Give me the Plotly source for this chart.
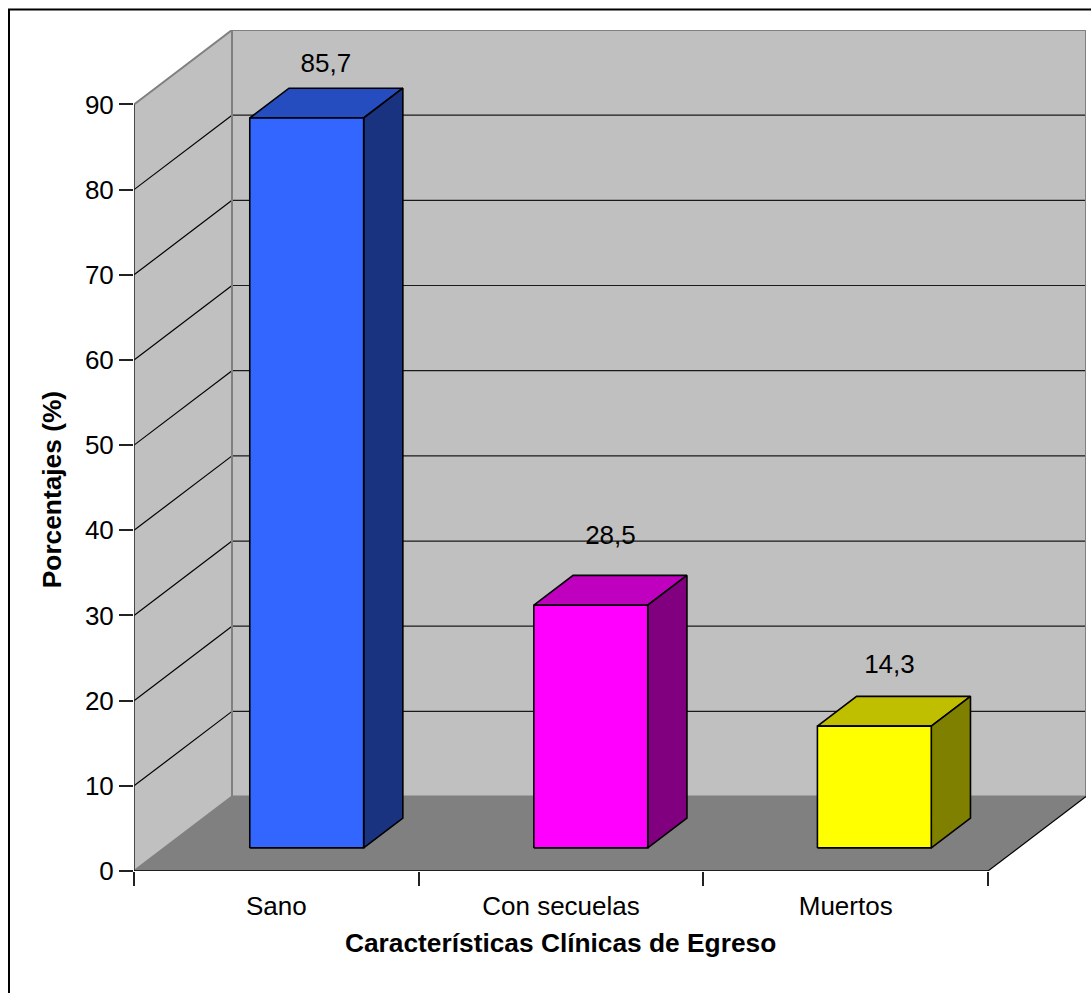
import plotly.graph_objects as go

# Chart data
categories = ["Sano", "Con secuelas", "Muertos"]
percentages = [85.7, 28.5, 14.3]
y_ticks = [0, 10, 20, 30, 40, 50, 60, 70, 80, 90]
x_title = "Características Clínicas de Egreso"
y_title = "Porcentajes (%)"

# Bar colours per category: front, top and side faces
front_colors = ["#3366FF", "#FF00FF", "#FFFF00"]
top_colors = ["#264DBF", "#BF00BF", "#BFBF00"]
side_colors = ["#1A3380", "#800080", "#808000"]

# Page and plot-box geometry
WIDTH, HEIGHT = 1091, 993
LEFT, RIGHT_EDGE, TOP, BOTTOM = 134, 1086, 29.5, 871
CATEGORY_PX = 284.67
Y_UNIT_PX = 767 / 90

# Oblique projection: full depth of the box, in axis units
DEPTH_X = 98 / CATEGORY_PX
DEPTH_Y = 74.5 / Y_UNIT_PX
BAR_HALF = 0.2
BAR_NEAR, BAR_FAR = 0.31, 0.71
FONT = "Liberation Sans"
TEXT_SIZE = 26
TITLE_SIZE = 26.3
Y_MAX = y_ticks[-1]
N = len(categories)

# Small sideways nudge of each bar inside its category band
bar_nudge = [0.0, -0.002, -0.006]

# Value labels: height above the bar and sideways shift, in axis units
label_gap = [8.9, 10.6, 9.7]
label_shift = [0.067, 0.067, 0.047]


def project(x, y, depth):
    return x + depth * DEPTH_X, y + depth * DEPTH_Y


def polygon(corners, fill, line=None, width=0):
    pts = [project(*c) for c in corners]
    pts.append(pts[0])
    return go.Scatter(
        x=[p[0] for p in pts], y=[p[1] for p in pts], mode="lines",
        fill="toself", fillcolor=fill,
        line=dict(color=line or fill, width=width if line else 0),
        hoverinfo="skip", showlegend=False, cliponaxis=False,
    )


def segment(a, b, color, width=1.2):
    pts = [project(*a), project(*b)]
    return go.Scatter(
        x=[p[0] for p in pts], y=[p[1] for p in pts], mode="lines",
        line=dict(color=color, width=width),
        hoverinfo="skip", showlegend=False, cliponaxis=False,
    )


fig = go.Figure()

# Walls and floor of the box
fig.add_trace(polygon([(0, 0, 1), (N, 0, 1), (N, Y_MAX, 1), (0, Y_MAX, 1)], "#C0C0C0"))
fig.add_trace(polygon([(0, 0, 0), (0, 0, 1), (0, Y_MAX, 1), (0, Y_MAX, 0)], "#C0C0C0"))
fig.add_trace(polygon([(0, 0, 0), (N, 0, 0), (N, 0, 1), (0, 0, 1)], "#808080"))

# Gridlines run along the side wall and across the back wall
for tick in y_ticks[1:-1]:
    fig.add_trace(segment((0, tick, 0), (0, tick, 1), "#000000", 1.2))
    fig.add_trace(segment((0, tick, 1), (N, tick, 1), "#1A1A1A", 1.2))

# Grey edges of the box
edge = "#808080"
fig.add_trace(segment((0, Y_MAX, 0), (0, Y_MAX, 1), edge, 2))
fig.add_trace(segment((0, Y_MAX, 1), (N, Y_MAX, 1), edge, 2))
fig.add_trace(segment((N, Y_MAX, 1), (N, 0, 1), edge, 2))
fig.add_trace(segment((0, 0, 1), (0, Y_MAX, 1), edge, 2))
fig.add_trace(segment((0, 0, 0), (0, 0, 1), edge, 2))
fig.add_trace(segment((0, 0, 1), (N, 0, 1), edge, 2))
fig.add_trace(segment((N, 0, 0), (N, 0, 1), "#000000", 1.2))

# Bars
for i, value in enumerate(percentages):
    centre = i + 0.5 + bar_nudge[i]
    x0, x1 = centre - BAR_HALF, centre + BAR_HALF
    fig.add_trace(polygon(
        [(x0, value, BAR_NEAR), (x1, value, BAR_NEAR), (x1, value, BAR_FAR), (x0, value, BAR_FAR)],
        top_colors[i], "#000000", 1.6))
    fig.add_trace(polygon(
        [(x1, 0, BAR_NEAR), (x1, 0, BAR_FAR), (x1, value, BAR_FAR), (x1, value, BAR_NEAR)],
        side_colors[i], "#000000", 1.6))
    fig.add_trace(polygon(
        [(x0, 0, BAR_NEAR), (x1, 0, BAR_NEAR), (x1, value, BAR_NEAR), (x0, value, BAR_NEAR)],
        front_colors[i], "#000000", 1.6))

# Value labels with a decimal comma
fig.add_trace(go.Scatter(
    x=[project(i + 0.5 + label_shift[i], 0, BAR_NEAR)[0] for i in range(N)],
    y=[v + g for v, g in zip(percentages, label_gap)],
    mode="text",
    text=[f"{v:.1f}".replace(".", ",") for v in percentages],
    textposition="middle center",
    textfont=dict(family=FONT, size=TEXT_SIZE, color="#000000"),
    hoverinfo="skip", showlegend=False, cliponaxis=False,
))

# Front axis lines stop at the front of the box
fig.add_trace(segment((0, 0, 0), (0, Y_MAX, 0), "#222222", 1.5))
fig.add_trace(segment((0, 0, 0), (N, 0, 0), "#000000", 1.5))

px_x = lambda p: (p - LEFT) / (RIGHT_EDGE - LEFT)
px_y = lambda p: (BOTTOM - p) / (BOTTOM - TOP)

fig.update_layout(
    width=WIDTH, height=HEIGHT, autosize=False,
    paper_bgcolor="#FFFFFF", plot_bgcolor="#FFFFFF",
    margin=dict(l=LEFT, r=WIDTH - RIGHT_EDGE, t=TOP, b=HEIGHT - BOTTOM, pad=0),
    showlegend=False,
    font=dict(family=FONT, size=TEXT_SIZE, color="#000000"),
    xaxis=dict(
        range=[0, N + DEPTH_X], showgrid=False, zeroline=False, showline=False,
        tickmode="array", tickvals=[i + 0.5 for i in range(N)], ticktext=categories,
        ticks="outside", ticklen=12, tickwidth=0, tickcolor="rgba(0,0,0,0)",
        tickfont=dict(family=FONT, size=TEXT_SIZE, color="#000000"),
        minor=dict(tickmode="array", tickvals=list(range(N + 1)), ticks="outside",
                   ticklen=14, tickwidth=1.5, tickcolor="#222222", showgrid=False),
    ),
    yaxis=dict(
        range=[0, Y_MAX + DEPTH_Y], showgrid=False, zeroline=False, showline=False,
        tickmode="array", tickvals=y_ticks,
        ticks="outside", ticklen=14, tickwidth=1.5, tickcolor="#222222",
        tickfont=dict(family=FONT, size=TEXT_SIZE, color="#000000"),
    ),
    annotations=[
        dict(text=f"<b>{x_title}</b>", x=px_x(560.5), y=px_y(943), xref="paper", yref="paper",
             xanchor="center", yanchor="middle", showarrow=False,
             font=dict(family=FONT, size=TITLE_SIZE, color="#000000")),
        dict(text=f"<b>{y_title}</b>", x=px_x(52), y=px_y(490), xref="paper", yref="paper",
             xanchor="center", yanchor="middle", showarrow=False, textangle=-90,
             font=dict(family=FONT, size=TITLE_SIZE, color="#000000")),
    ],
    shapes=[
        # Page frame: only the left and top sides fall inside the page
        dict(type="path", xref="paper", yref="paper",
             path=f"M {px_x(9)} {px_y(HEIGHT + 5)} L {px_x(9)} {px_y(9)} L {px_x(WIDTH + 5)} {px_y(9)}",
             line=dict(color="#000000", width=2)),
    ],
)

fig.write_html("out.html")
